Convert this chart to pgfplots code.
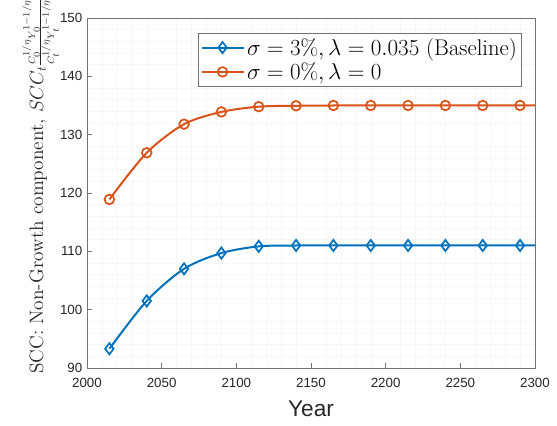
\documentclass[border=0pt]{standalone}
\usepackage{pgfplots}
\pgfplotsset{compat=1.18}
\usepackage{fontspec}
\setsansfont{Liberation Sans}
\definecolor{mblue}{rgb}{0,0.447,0.741}
\definecolor{morange}{rgb}{0.85,0.325,0.098}
\definecolor{axgray}{rgb}{0.15,0.15,0.15}
\begin{document}
\begin{tikzpicture}
\useasboundingbox (-65.25pt,-42.75pt) rectangle (352.5pt,276pt);
\begin{axis}[
  scale only axis,
  width=336pt, height=262.5pt,
  at={(0,0)}, anchor=south west,
  xmin=2000, xmax=2300, ymin=90, ymax=150,
  xtick={2000,2050,...,2300},
  ytick={90,100,...,150},
  minor x tick num=4, minor y tick num=4,
  minor grid style={draw=black!3, line width=0.3pt},
  xminorgrids, yminorgrids,
  minor tick length=0pt,
  axis line style={draw=black!55, line width=0.6pt},
  tick style={draw=black!55, line width=0.5pt},
  major tick length=4pt,
  tick align=inside,
  xtick pos=bottom, ytick pos=left,
  /pgf/number format/assume math mode=true,
  /pgf/number format/1000 sep={},
  ticklabel style={font=\sffamily\fontsize{10}{12}\selectfont, text=axgray},
  xticklabel style={yshift=-4pt},
  xlabel={\sffamily\fontsize{17}{19}\selectfont Year},
  xlabel style={text=axgray, yshift=-3pt},
  ylabel={SCC: Non-Growth component, $SCC_t{\scriptscriptstyle\frac{C_0^{1/\eta}Y_0^{1-1/\eta}}{C_t^{1/\eta}Y_t^{1-1/\eta}}}$},
  ylabel style={font=\fontsize{14.5}{17}\selectfont, text=axgray,
    at={(axis description cs:-0.098,0.52)}, anchor=base, rotate=0},
  legend style={at={(0.971,0.957)}, anchor=north east, draw=black!55, line width=0.6pt,
    font=\fontsize{17}{20}\selectfont, inner sep=1.5pt, row sep=0pt},
  legend cell align=left,
  legend image code/.code={\draw[#1,mark indices={2}] plot coordinates {(0cm,0cm)(0.55cm,0cm)(1.1cm,0cm)};},
]
\addplot[color=mblue, line width=1.5pt, smooth, mark=diamond, mark size=4.2pt,
  mark options={line width=1.3pt}, mark indices={1,...,12}]
coordinates {
(2015,93.3) (2040,101.5) (2065,107.0) (2090,109.7) (2115,110.85) (2140,111.0)
(2165,111.0) (2190,111.0) (2215,111.0) (2240,111.0) (2265,111.0) (2290,111.0) (2300,111.0)
};
\addlegendentry{$\sigma=3\%, \lambda=0.035$ (Baseline)}
\addplot[color=morange, line width=1.5pt, smooth, mark=o, mark size=3.6pt,
  mark options={line width=1.3pt}, mark indices={1,...,12}]
coordinates {
(2015,118.9) (2040,126.9) (2065,131.8) (2090,133.9) (2115,134.8) (2140,134.95)
(2165,135.0) (2190,135.0) (2215,135.0) (2240,135.0) (2265,135.0) (2290,135.0) (2300,135.0)
};
\addlegendentry{$\sigma=0\%, \lambda=0$}
\end{axis}
\end{tikzpicture}
\end{document}
